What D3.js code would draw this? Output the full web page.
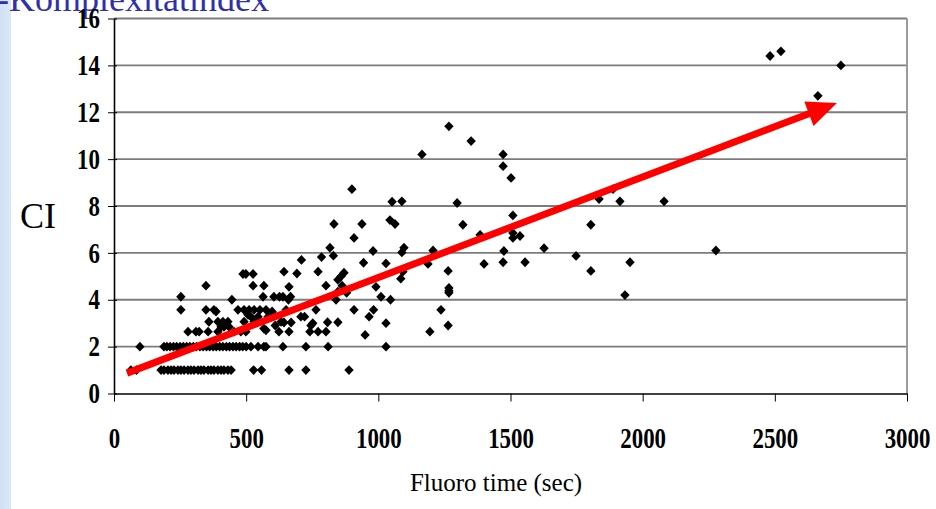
<!DOCTYPE html>
<html>
<head>
<meta charset="utf-8">
<script src="https://cdn.jsdelivr.net/npm/d3@7"></script>
<style>
  html, body { margin: 0; padding: 0; background: #fff; overflow: hidden; }
  svg { display: block; }
  .tick text { font-family: 'Liberation Serif', 'DejaVu Serif', serif; font-weight: bold; font-size: 26px; fill: #000; }
</style>
</head>
<body>
<svg id="chart" width="936" height="509"></svg>
<script>
// fluoro times (sec) of the cases with CI = 1 and CI = 2
const ciOneTimes = [64, 85, 178, 189, 204, 216, 227, 242, 253, 265, 280, 291, 303, 318, 329, 340, 356, 367,
  378, 393, 405, 416, 431, 443, 528, 558, 662, 726, 889];
const ciTwoTimes = [98, 189, 200, 212, 225, 237, 250, 262, 275, 287, 300, 312, 325, 337, 350, 362, 375, 387,
  400, 412, 425, 437, 450, 462, 475, 487, 500, 518, 545, 567, 575, 639, 726, 810, 1029];

// remaining cases as [fluoro time, CI]
const otherCases = [
  [253, 4.13], [253, 3.57], [348, 4.6], [280, 2.64], [310, 2.64], [322, 2.64], [348, 3.57], [378, 3.57],
  [386, 3.5], [359, 3.06], [393, 3.06], [412, 3.06], [431, 3.06], [405, 2.85], [393, 2.64], [356, 2.64],
  [446, 4.0], [416, 2.85], [435, 2.85], [469, 3.57], [454, 2.64], [488, 5.1], [499, 5.1], [526, 5.1],
  [526, 4.6], [492, 3.57], [511, 3.57], [530, 3.57], [552, 3.57], [575, 3.57], [507, 3.36], [518, 3.28],
  [492, 3.06], [530, 3.06], [480, 2.64], [499, 2.64], [564, 4.13], [567, 4.6], [575, 2.7], [567, 2.77],
  [545, 3.28], [583, 3.28], [598, 3.5], [605, 3.36], [605, 4.13], [626, 4.13], [639, 4.13], [668, 4.13],
  [660, 4.0], [662, 4.55], [643, 5.2], [610, 2.9], [624, 2.64], [662, 2.64], [632, 3.06], [643, 3.03],
  [670, 3.03], [651, 3.57], [692, 5.12], [709, 5.7], [707, 3.28], [721, 3.28], [752, 3.0], [745, 2.9],
  [741, 2.64], [764, 3.57], [772, 5.2], [785, 5.82], [772, 2.64], [802, 2.64], [802, 4.6], [808, 3.04],
  [830, 5.88], [847, 4.85], [859, 5.0], [870, 5.15], [863, 4.6], [847, 4.34], [840, 4.0], [847, 3.04],
  [880, 4.3], [908, 3.57], [944, 5.58], [950, 2.5], [965, 3.28], [982, 3.57], [991, 4.55], [980, 6.08],
  [1010, 4.13], [1029, 5.55], [1029, 3.0], [1046, 4.0], [1085, 4.9], [1093, 5.2],
  [900, 8.72], [1052, 8.18], [1089, 8.2], [832, 7.23], [938, 7.23], [1044, 7.4], [1063, 7.23],
  [908, 6.64], [817, 6.22], [1097, 6.22], [1089, 6.02], [1207, 6.1], [1188, 5.53], [1264, 5.23],
  [1267, 11.4], [1351, 10.77], [1165, 10.2], [1472, 10.2], [1472, 9.7], [1502, 9.2], [1298, 8.13],
  [1320, 7.2], [1509, 7.6], [1509, 6.85], [1509, 6.64], [1536, 6.72], [1385, 6.77], [1475, 6.08],
  [1627, 6.2], [1748, 5.87], [1400, 5.53], [1472, 5.6], [1555, 5.6], [1804, 7.2], [1804, 5.23],
  [1835, 8.3], [1914, 8.2], [2081, 8.2], [1952, 5.6], [1933, 4.2], [1888, 8.72],
  [1267, 4.5], [1267, 4.38], [1267, 4.3], [1237, 3.57], [1195, 2.64], [1264, 2.9],
  [2482, 14.4], [2523, 14.6], [2750, 14.0], [2663, 12.7], [2277, 6.1]
];

const xTicks = [0, 500, 1000, 1500, 2000, 2500, 3000];
const yTicks = [0, 2, 4, 6, 8, 10, 12, 14, 16];
// hand-drawn trend arrow: [fluoro time, CI] of its tail and tip
const trendTail = [49, 0.87];
const trendTip = [2735, 12.39];

const width = 936;
const height = 509;
const plot = { left: 114, right: 907, top: 18.5, bottom: 393.5 };

const cases = [
  ...ciOneTimes.map((t) => [t, 1]),
  ...ciTwoTimes.map((t) => [t, 2]),
  ...otherCases,
];

const x = d3.scaleLinear().domain([0, 3000]).range([plot.left, plot.right]);
const y = d3.scaleLinear().domain([0, 16]).range([plot.bottom, plot.top]);

const svg = d3.select('#chart');

// slide background strip on the left edge
const defs = svg.append('defs');
const grad = defs.append('linearGradient').attr('id', 'strip').attr('x1', 0).attr('x2', 1);
grad.append('stop').attr('offset', 0).attr('stop-color', '#cfe0f6');
grad.append('stop').attr('offset', 1).attr('stop-color', '#dde9f8');
svg.append('rect').attr('x', 0).attr('y', 0).attr('width', 11).attr('height', height).attr('fill', 'url(#strip)');

svg.append('text')
  .attr('x', -3)
  .attr('y', 11)
  .attr('font-family', "'Liberation Serif', serif")
  .attr('font-size', 36)
  .attr('fill', '#3030aa')
  .text('-Komplexitätindex');

// horizontal gridlines
svg.append('g')
  .selectAll('line')
  .data(yTicks.filter((d) => d > 0))
  .join('line')
  .attr('x1', plot.left)
  .attr('x2', plot.right)
  .attr('y1', (d) => y(d))
  .attr('y2', (d) => y(d))
  .attr('stroke', '#7c7c7c')
  .attr('stroke-width', 1.8);

// right frame
svg.append('line')
  .attr('x1', plot.right).attr('x2', plot.right)
  .attr('y1', plot.top).attr('y2', plot.bottom)
  .attr('stroke', '#9a9a9a').attr('stroke-width', 2);

// tick labels in the source are narrow and tall
const squeeze = 'scale(0.88,1.1)';

const yAxis = svg.append('g')
  .attr('transform', `translate(${plot.left},0)`)
  .call(d3.axisLeft(y).tickValues(yTicks).tickSize(6).tickPadding(10).tickSizeOuter(0));
yAxis.select('.domain').attr('stroke', '#000').attr('stroke-width', 1.6);
yAxis.selectAll('.tick line').clone().attr('x2', 3);
yAxis.selectAll('.tick text').attr('transform', squeeze);

const xAxis = svg.append('g')
  .attr('transform', `translate(0,${plot.bottom})`)
  .call(d3.axisBottom(x).tickValues(xTicks).tickFormat(d3.format('d')).tickSize(8).tickPadding(23).tickSizeOuter(0));
xAxis.select('.domain').attr('stroke', '#000').attr('stroke-width', 1.6);
xAxis.selectAll('.tick line').attr('stroke', '#000');
xAxis.selectAll('.tick text').attr('transform', squeeze);

svg.append('text')
  .attr('x', 20)
  .attr('y', 228)
  .attr('font-family', "'Liberation Serif', serif")
  .attr('font-size', 36)
  .text('CI');

svg.append('text')
  .attr('x', 496)
  .attr('y', 491)
  .attr('text-anchor', 'middle')
  .attr('font-family', "'Liberation Serif', serif")
  .attr('font-size', 25)
  .text('Fluoro time (sec)');

// diamond markers
const diamond = {
  draw(ctx, size) {
    const r = Math.sqrt(size) / 2;
    ctx.moveTo(0, -r * 1.05);
    ctx.lineTo(r, 0);
    ctx.lineTo(0, r * 1.05);
    ctx.lineTo(-r, 0);
    ctx.closePath();
  },
};

svg.append('g')
  .selectAll('path')
  .data(cases)
  .join('path')
  .attr('transform', (d) => `translate(${x(d[0])},${y(d[1])})`)
  .attr('d', d3.symbol(diamond, 88))
  .attr('fill', '#000');

// red trend arrow
const [tx0, ty0] = [x(trendTail[0]), y(trendTail[1])];
const [tx1, ty1] = [x(trendTip[0]), y(trendTip[1])];
const angle = Math.atan2(ty1 - ty0, tx1 - tx0);
const headLen = 30;
const headHalf = 13;
const bx = tx1 - headLen * Math.cos(angle);
const by = ty1 - headLen * Math.sin(angle);

svg.append('line')
  .attr('x1', tx0).attr('y1', ty0)
  .attr('x2', bx + 2 * Math.cos(angle)).attr('y2', by + 2 * Math.sin(angle))
  .attr('stroke', '#ff0000')
  .attr('stroke-width', 7);

svg.append('path')
  .attr('d', d3.line()([
    [tx1, ty1],
    [bx - headHalf * Math.sin(angle), by + headHalf * Math.cos(angle)],
    [bx + headHalf * Math.sin(angle), by - headHalf * Math.cos(angle)],
  ]) + 'Z')
  .attr('fill', '#ff0000');
</script>
</body>
</html>
